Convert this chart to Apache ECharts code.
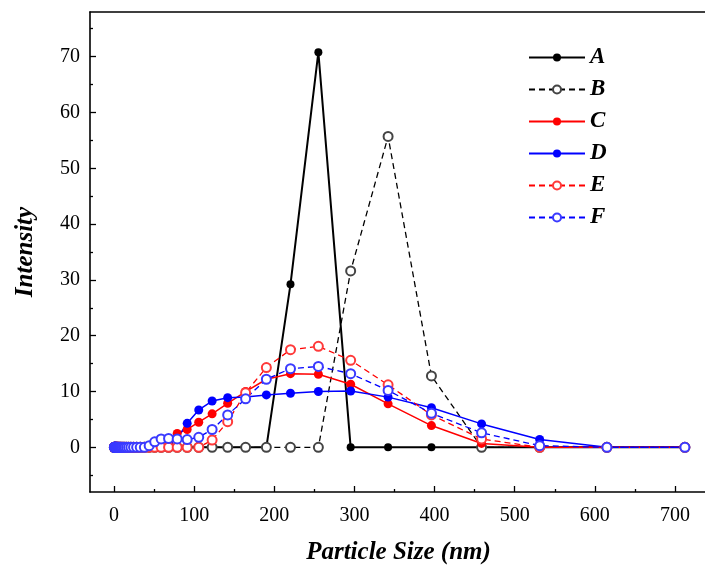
<!DOCTYPE html>
<html>
<head>
<meta charset="utf-8">
<script src="https://cdn.jsdelivr.net/npm/echarts@6/dist/echarts.min.js"></script>
<style>
  html, body { margin: 0; padding: 0; background: #fff; }
  #chart { width: 705px; height: 565px; }
</style>
</head>
<body>
<div id="chart"></div>
<script>
// particle size bins (nm)
const sizes = [0.4, 0.4632, 0.5365, 0.6213, 0.7195, 0.8332, 0.9649, 1.117, 1.294, 1.499,
  1.736, 2.01, 2.328, 2.696, 3.122, 3.615, 4.187, 4.849, 5.615, 6.503,
  7.531, 8.721, 10.1, 11.7, 13.54, 15.69, 18.17, 21.04, 24.36, 28.21,
  32.67, 37.84, 43.82, 50.75, 58.77, 68.06, 78.82, 91.28, 105.7, 122.4,
  141.8, 164.2, 190.1, 220.2, 255.0, 295.3, 342.0, 396.1, 458.7, 531.2,
  615.1, 712.4];

// intensity per bin
const seriesA = [0, 0, 0, 0, 0, 0, 0, 0, 0, 0, 0, 0, 0, 0, 0, 0, 0, 0, 0, 0,
  0, 0, 0, 0, 0, 0, 0, 0, 0, 0, 0, 0, 0, 0, 0, 0, 0, 0, 0, 0,
  0, 0, 0, 29.2, 70.8, 0, 0, 0, 0, 0, 0, 0];
const seriesB = [0, 0, 0, 0, 0, 0, 0, 0, 0, 0, 0, 0, 0, 0, 0, 0, 0, 0, 0, 0,
  0, 0, 0, 0, 0, 0, 0, 0, 0, 0, 0, 0, 0, 0, 0, 0, 0, 0, 0, 0,
  0, 0, 0, 0, 0, 31.6, 55.7, 12.8, 0, 0, 0, 0];
const seriesC = [0, 0, 0, 0, 0, 0, 0, 0, 0, 0, 0, 0, 0, 0, 0, 0, 0, 0, 0, 0,
  0, 0, 0, 0, 0, 0, 0, 0, 0, 0, 0, 0, 0, 0, 0.2, 1.1, 2.5, 3.2, 4.5, 6.0,
  7.9, 10.0, 12.2, 13.2, 13.1, 11.3, 7.8, 3.9, 0.7, 0, 0, 0];
const seriesD = [0, 0, 0, 0, 0, 0, 0, 0, 0, 0, 0, 0, 0, 0, 0, 0, 0, 0, 0, 0,
  0, 0, 0, 0, 0, 0, 0, 0, 0, 0, 0, 0, 0, 0, 0, 0.5, 1.6, 4.3, 6.7, 8.3,
  8.9, 9.0, 9.4, 9.7, 10.0, 10.1, 9.0, 7.1, 4.2, 1.4, 0, 0];
const seriesE = [0, 0, 0, 0, 0, 0, 0, 0, 0, 0, 0, 0, 0, 0, 0, 0, 0, 0, 0, 0,
  0, 0, 0, 0, 0, 0, 0, 0, 0, 0, 0, 0, 0, 0, 0, 0, 0, 0, 0, 1.3,
  4.6, 9.8, 14.3, 17.5, 18.1, 15.6, 11.2, 5.8, 1.5, 0, 0, 0];
const seriesF = [0, 0, 0, 0, 0, 0, 0, 0, 0, 0, 0, 0, 0, 0, 0, 0, 0, 0, 0, 0,
  0, 0, 0, 0, 0, 0, 0, 0, 0, 0, 0, 0, 0.3, 1.0, 1.5, 1.6, 1.5, 1.4, 1.8, 3.2,
  5.8, 8.7, 12.2, 14.1, 14.5, 13.2, 10.2, 6.1, 2.6, 0.3, 0, 0];

const xMajorTicks = [0, 100, 200, 300, 400, 500, 600, 700];
const xMinorTicks = [50, 150, 250, 350, 450, 550, 650];
const yMajorTicks = [0, 10, 20, 30, 40, 50, 60, 70];
const yMinorTicks = [-5, 5, 15, 25, 35, 45, 55, 65, 75];

const FONT = '"Liberation Serif", "Times New Roman", serif';
const toPoints = (ys) => sizes.map((x, i) => [x, ys[i]]);

const chart = echarts.init(document.getElementById('chart'));

const axisText = { fontFamily: FONT, fontSize: 20, color: '#000' };
const nameText = { fontFamily: FONT, fontSize: 25, fontWeight: 'bold', fontStyle: 'italic', color: '#000' };
const frameLine = { show: true, onZero: false, lineStyle: { color: '#000', width: 1.6 } };
const noLine = { show: false, onZero: false };

const makeSeries = (name, ys, opt) => ({
  name,
  type: 'line',
  data: toPoints(ys),
  xAxisIndex: 0,
  yAxisIndex: 0,
  symbol: opt.symbol,
  symbolSize: opt.size,
  showAllSymbol: true,
  lineStyle: { color: opt.color, width: opt.width, type: opt.dash ? [6, 4] : 'solid' },
  itemStyle: opt.symbol === 'emptyCircle'
    ? { color: opt.markColor || opt.color, borderWidth: 1 }
    : { color: opt.color },
  emphasis: { disabled: true },
});

const option = {
  animation: false,
  backgroundColor: '#fff',
  grid: { left: 90, top: 12, width: 617, height: 480, outerBoundsMode: 'none' },
  legend: {
    orient: 'vertical',
    left: 523,
    top: 41,
    itemWidth: 56,
    itemHeight: 10,
    itemGap: 9,
    textStyle: { fontFamily: FONT, fontSize: 23, fontWeight: 'bold', fontStyle: 'italic', color: '#000' },
    data: ['A', 'B', 'C', 'D', 'E', 'F'],
  },
  xAxis: [
    {
      type: 'value', position: 'bottom', min: -30, max: 740,
      axisLine: frameLine,
      axisTick: { inside: true, length: 6, customValues: xMajorTicks, lineStyle: { color: '#000', width: 1.3 } },
      axisLabel: { ...axisText, margin: 14, customValues: xMajorTicks },
      splitLine: { show: false },
      name: 'Particle Size (nm)', nameLocation: 'middle', nameGap: 48, nameTextStyle: nameText,
    },
    {
      type: 'value', position: 'bottom', min: -30, max: 740,
      axisLine: noLine,
      axisTick: { inside: true, length: 3, customValues: xMinorTicks, lineStyle: { color: '#000', width: 1.3 } },
      axisLabel: { show: false },
      splitLine: { show: false },
    },
    {
      type: 'value', position: 'top', min: -30, max: 740,
      axisLine: frameLine,
      axisTick: { show: false },
      axisLabel: { show: false },
      splitLine: { show: false },
    },
  ],
  yAxis: [
    {
      type: 'value', position: 'left', min: -8, max: 78,
      axisLine: frameLine,
      axisTick: { inside: true, length: 6, customValues: yMajorTicks, lineStyle: { color: '#000', width: 1.3 } },
      axisLabel: { ...axisText, margin: 10, customValues: yMajorTicks },
      splitLine: { show: false },
      name: 'Intensity', nameLocation: 'middle', nameGap: 52, nameRotate: 90, nameTextStyle: nameText,
    },
    {
      type: 'value', position: 'left', min: -8, max: 78,
      axisLine: noLine,
      axisTick: { inside: true, length: 3, customValues: yMinorTicks, lineStyle: { color: '#000', width: 1.3 } },
      axisLabel: { show: false },
      splitLine: { show: false },
    },
  ],
  series: [
    makeSeries('A', seriesA, { color: '#000', width: 2, symbol: 'circle', size: 8 }),
    makeSeries('B', seriesB, { color: '#000', width: 1.3, dash: true, symbol: 'emptyCircle', size: 9, markColor: '#444' }),
    makeSeries('C', seriesC, { color: '#ff0000', width: 1.5, symbol: 'circle', size: 9 }),
    makeSeries('D', seriesD, { color: '#0000ff', width: 1.5, symbol: 'circle', size: 9 }),
    makeSeries('E', seriesE, { color: '#ff0000', width: 1.3, dash: true, symbol: 'emptyCircle', size: 9, markColor: '#ff3a3a' }),
    makeSeries('F', seriesF, { color: '#0000ff', width: 1.3, dash: true, symbol: 'emptyCircle', size: 9, markColor: '#3a3aff' }),
  ],
};

chart.setOption(option);
</script>
</body>
</html>
